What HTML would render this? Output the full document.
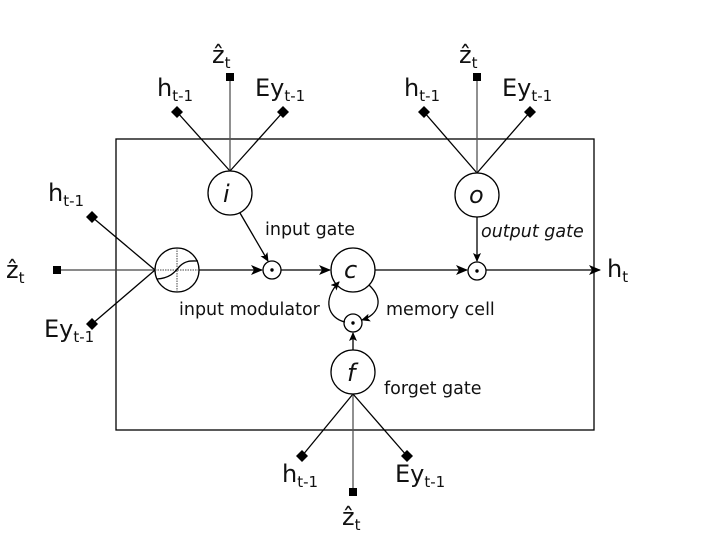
<!DOCTYPE html>
<html><head><style>body{margin:0;background:#fff}svg{display:block}text{font-family:"DejaVu Sans","Liberation Sans",sans-serif;fill:#111}</style></head>
<body>
<svg width="722" height="550" viewBox="0 0 722 550" xmlns="http://www.w3.org/2000/svg">
<defs>
<marker id="a" markerWidth="12" markerHeight="10" refX="11" refY="5" orient="auto" markerUnits="userSpaceOnUse"><path d="M0,0 L12,5 L0,10 L3,5 Z" fill="#000"/></marker>
<marker id="s" markerWidth="9" markerHeight="8" refX="8" refY="4" orient="auto" markerUnits="userSpaceOnUse"><path d="M0,0 L9,4 L0,8 L2,4 Z" fill="#000"/></marker>
</defs>
<g stroke="#000" stroke-width="1.3" fill="none">
<rect x="116" y="139" width="478" height="291"/>
<line x1="177" y1="112" x2="230" y2="171"/><line x1="230" y1="77" x2="230" y2="171" stroke="#555"/><line x1="283" y1="112" x2="230" y2="171"/>
<line x1="424" y1="112" x2="477" y2="173"/><line x1="477" y1="77" x2="477" y2="173" stroke="#555"/><line x1="530" y1="112" x2="477" y2="173"/>
<line x1="92" y1="217" x2="155" y2="270"/><line x1="57" y1="270" x2="155" y2="270" stroke="#444"/><line x1="92" y1="324" x2="155" y2="270"/>
<line x1="302" y1="456" x2="353" y2="394"/><line x1="353" y1="492" x2="353" y2="394" stroke="#555"/><line x1="407" y1="456" x2="353" y2="394"/>
<circle cx="230" cy="193" r="22"/><circle cx="477" cy="195" r="22"/><circle cx="177" cy="270" r="22"/>
<circle cx="353" cy="270" r="22"/><circle cx="353" cy="372" r="22"/>
<circle cx="272" cy="270" r="9"/><circle cx="477" cy="271" r="9"/><circle cx="353" cy="323" r="9"/>
<line x1="199" y1="270" x2="262" y2="270" marker-end="url(#a)"/>
<line x1="281" y1="270" x2="330" y2="270" marker-end="url(#a)"/>
<line x1="375" y1="270" x2="467" y2="270" marker-end="url(#a)"/>
<line x1="486" y1="270" x2="600" y2="270" marker-end="url(#a)"/>
<line x1="240" y1="213" x2="268" y2="261" marker-end="url(#s)"/>
<line x1="477" y1="217" x2="477" y2="261" marker-end="url(#s)"/>
<line x1="353" y1="350" x2="353" y2="333" marker-end="url(#s)"/>
<path d="M369,285 C385,300 378,315 362,320" marker-end="url(#s)"/>
<path d="M345,322 C328,318 322,300 339,282" marker-end="url(#s)"/>
<g stroke-width="1" stroke-dasharray="1.5,1" stroke="#444"><line x1="177" y1="248" x2="177" y2="292"/><line x1="155" y1="270" x2="199" y2="270"/></g>
<path d="M157,279 C172,278 176,270 180,266 C186,260 192,261 198,261"/>
</g>
<g fill="#000">
<circle cx="272" cy="270" r="1.7"/><circle cx="477" cy="271" r="1.7"/><circle cx="353" cy="323" r="1.7"/>
<rect x="226" y="73" width="8" height="8"/><rect x="473" y="73" width="8" height="8"/><rect x="53" y="266" width="8" height="8"/><rect x="349" y="488" width="8" height="8"/>
<path d="M177,106 l6,6 -6,6 -6,-6z"/><path d="M283,106 l6,6 -6,6 -6,-6z"/>
<path d="M424,106 l6,6 -6,6 -6,-6z"/><path d="M530,106 l6,6 -6,6 -6,-6z"/>
<path d="M92,211 l6,6 -6,6 -6,-6z"/><path d="M92,318 l6,6 -6,6 -6,-6z"/>
<path d="M302,450 l6,6 -6,6 -6,-6z"/><path d="M407,450 l6,6 -6,6 -6,-6z"/>
</g>
<g font-size="24">
<text x="157" y="96">h<tspan font-size="15" dy="5">t-1</tspan></text>
<text x="255" y="96">Ey<tspan font-size="15" dy="5">t-1</tspan></text>
<text x="212" y="63">ẑ<tspan font-size="15" dy="5">t</tspan></text>
<text x="404" y="96">h<tspan font-size="15" dy="5">t-1</tspan></text>
<text x="502" y="96">Ey<tspan font-size="15" dy="5">t-1</tspan></text>
<text x="459" y="63">ẑ<tspan font-size="15" dy="5">t</tspan></text>
<text x="48" y="201">h<tspan font-size="15" dy="5">t-1</tspan></text>
<text x="44" y="337">Ey<tspan font-size="15" dy="5">t-1</tspan></text>
<text x="6" y="278">ẑ<tspan font-size="15" dy="5">t</tspan></text>
<text x="282" y="482">h<tspan font-size="15" dy="5">t-1</tspan></text>
<text x="395" y="482">Ey<tspan font-size="15" dy="5">t-1</tspan></text>
<text x="342" y="525">ẑ<tspan font-size="15" dy="5">t</tspan></text>
<text x="607" y="277">h<tspan font-size="15" dy="5">t</tspan></text>
<text x="223" y="202" font-style="italic">i</text>
<text x="469" y="203" font-style="italic">o</text>
<text x="344" y="278" font-style="italic">c</text>
<text x="347" y="381" font-style="italic">f</text>
</g>
<g font-size="17.5">
<text x="265" y="235">input gate</text>
<text x="481" y="237" font-style="italic">output gate</text>
<text x="179" y="315">input modulator</text>
<text x="386" y="315">memory cell</text>
<text x="384" y="394">forget gate</text>
</g>
</svg>
</body></html>
